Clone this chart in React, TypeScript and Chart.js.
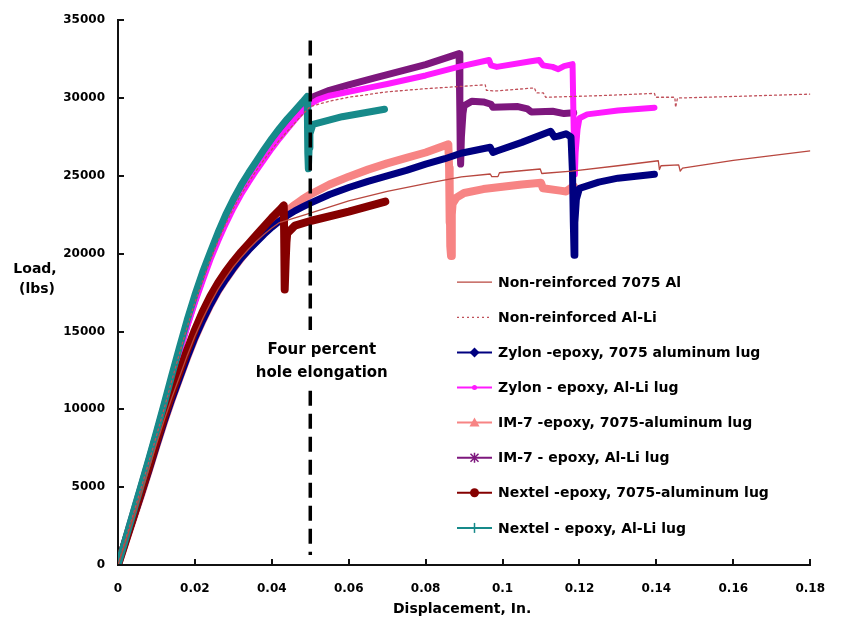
import { useEffect, useRef } from "react";
import { Chart, registerables } from "chart.js";

Chart.register(...registerables);

type P = [number, number];

const X_TICKS = [0, 0.02, 0.04, 0.06, 0.08, 0.1, 0.12, 0.14, 0.16, 0.18];
const Y_TICKS = [0, 5000, 10000, 15000, 20000, 25000, 30000, 35000];

const LEGEND_LABELS = [
  "Non-reinforced 7075 Al",
  "Non-reinforced Al-Li",
  "Zylon -epoxy, 7075 aluminum lug",
  "Zylon - epoxy, Al-Li lug",
  "IM-7 -epoxy, 7075-aluminum lug",
  "IM-7 - epoxy, Al-Li lug",
  "Nextel -epoxy, 7075-aluminum lug",
  "Nextel - epoxy, Al-Li lug",
];

const NONREINF_7075: P[] = [
  [0, 0], [0.002, 1520], [0.004, 3050], [0.006, 4580], [0.008, 6150], [0.01, 7750], [0.012, 9300],
  [0.014, 10750], [0.016, 12100], [0.018, 13450], [0.02, 14700], [0.022, 15800], [0.024, 16800],
  [0.026, 17700], [0.028, 18450], [0.03, 19150], [0.032, 19750], [0.034, 20300], [0.036, 20800],
  [0.038, 21250], [0.04, 21650], [0.042, 22000], [0.046, 22300], [0.05, 22600], [0.06, 23400],
  [0.07, 24000], [0.08, 24500], [0.0893, 24930], [0.0968, 25120], [0.0972, 24950], [0.0988, 24950],
  [0.0992, 25200], [0.1098, 25440], [0.1102, 25150], [0.118, 25300], [0.13, 25650], [0.1405, 25970],
  [0.1408, 25400], [0.1412, 25650], [0.1458, 25700], [0.1462, 25300], [0.1468, 25500],
  [0.16, 26000], [0.17, 26300], [0.18, 26600],
];

const NONREINF_ALLI: P[] = [
  [0, 0], [0.002, 1650], [0.004, 3300], [0.006, 4950], [0.008, 6600], [0.01, 8300], [0.012, 10050],
  [0.014, 11850], [0.016, 13600], [0.018, 15300], [0.02, 16850], [0.022, 18250], [0.024, 19600],
  [0.026, 20800], [0.028, 21900], [0.03, 22900], [0.032, 23800], [0.034, 24600], [0.036, 25350],
  [0.038, 26050], [0.04, 26700], [0.042, 27300], [0.044, 27850], [0.046, 28400], [0.048, 28950],
  [0.05, 29450], [0.055, 29800], [0.06, 30050], [0.07, 30400], [0.08, 30600], [0.0955, 30850],
  [0.0958, 30500], [0.098, 30450], [0.1083, 30650], [0.1088, 30330], [0.1106, 30330],
  [0.1112, 30050], [0.125, 30150], [0.1395, 30300], [0.1398, 30050], [0.1448, 30050],
  [0.145, 29400], [0.1455, 30000], [0.16, 30100], [0.18, 30250],
];

const ZYLON_7075: P[] = [
  [0, 0], [0.002, 1500], [0.004, 3000], [0.006, 4500], [0.008, 6050], [0.01, 7650], [0.012, 9200],
  [0.014, 10650], [0.016, 12000], [0.018, 13350], [0.02, 14600], [0.022, 15700], [0.024, 16700],
  [0.026, 17600], [0.028, 18350], [0.03, 19050], [0.032, 19700], [0.034, 20250], [0.036, 20750],
  [0.038, 21250], [0.04, 21700], [0.042, 22100], [0.044, 22450], [0.046, 22750], [0.048, 23000],
  [0.05, 23250], [0.055, 23800], [0.06, 24250], [0.065, 24650], [0.0693, 24950], [0.075, 25350],
  [0.08, 25750], [0.085, 26100], [0.0892, 26450], [0.0968, 26840], [0.0975, 26500],
  [0.0985, 26600], [0.105, 27150], [0.1125, 27860], [0.1135, 27500], [0.1145, 27550],
  [0.1165, 27700], [0.1178, 27500], [0.1182, 25100], [0.1184, 22000], [0.1186, 19900],
  [0.1188, 22000], [0.1192, 23500], [0.12, 24200], [0.125, 24600], [0.13, 24850], [0.1395, 25100],
];

const ZYLON_ALLI: P[] = [
  [0, 0], [0.002, 1650], [0.004, 3300], [0.006, 4950], [0.008, 6600], [0.01, 8300], [0.012, 10050],
  [0.014, 11850], [0.016, 13600], [0.018, 15300], [0.02, 16850], [0.022, 18250], [0.024, 19600],
  [0.026, 20800], [0.028, 21900], [0.03, 22900], [0.032, 23800], [0.034, 24600], [0.036, 25350],
  [0.038, 26050], [0.04, 26750], [0.042, 27400], [0.044, 28000], [0.046, 28600], [0.048, 29150],
  [0.05, 29600], [0.052, 29900], [0.055, 30150], [0.06, 30400], [0.065, 30650], [0.07, 30900],
  [0.08, 31450], [0.0885, 32000], [0.0965, 32440], [0.097, 32100], [0.0985, 32000],
  [0.107, 32350], [0.1095, 32440], [0.1105, 32100], [0.113, 32000], [0.1145, 31850],
  [0.116, 32050], [0.1182, 32180], [0.1185, 28000], [0.1188, 25100], [0.119, 26500],
  [0.1195, 28000], [0.12, 28700], [0.122, 28950], [0.13, 29200], [0.1395, 29380],
];

const IM7_7075: P[] = [
  [0, 0], [0.002, 1500], [0.004, 3000], [0.006, 4500], [0.008, 6050], [0.01, 7650], [0.012, 9200],
  [0.014, 10650], [0.016, 12000], [0.018, 13350], [0.02, 14600], [0.022, 15700], [0.024, 16700],
  [0.026, 17600], [0.028, 18350], [0.03, 19050], [0.032, 19700], [0.034, 20300], [0.036, 20850],
  [0.038, 21350], [0.04, 21850], [0.042, 22300], [0.044, 22750], [0.046, 23150], [0.048, 23500],
  [0.05, 23800], [0.055, 24450], [0.06, 24950], [0.065, 25400], [0.07, 25800], [0.075, 26150],
  [0.08, 26500], [0.0859, 27030], [0.0861, 25500], [0.0862, 22000], [0.0863, 24500],
  [0.0864, 20500], [0.0866, 19850], [0.0868, 22500], [0.087, 23200], [0.088, 23600],
  [0.09, 23900], [0.095, 24150], [0.1, 24300], [0.105, 24450], [0.11, 24550], [0.1105, 24200],
  [0.115, 24050], [0.1165, 24000], [0.1185, 24350],
];

const IM7_ALLI: P[] = [
  [0, 0], [0.002, 1680], [0.004, 3350], [0.006, 5020], [0.008, 6700], [0.01, 8420], [0.012, 10200],
  [0.014, 12000], [0.016, 13800], [0.018, 15500], [0.02, 17050], [0.022, 18500], [0.024, 19850],
  [0.026, 21050], [0.028, 22150], [0.03, 23150], [0.032, 24050], [0.034, 24850], [0.036, 25600],
  [0.038, 26300], [0.04, 26980], [0.042, 27620], [0.044, 28250], [0.046, 28850], [0.048, 29450],
  [0.05, 30000], [0.055, 30500], [0.06, 30850], [0.0668, 31300], [0.08, 32150], [0.0887, 32850],
  [0.0889, 29000], [0.089, 26500], [0.0891, 25760], [0.0893, 27500], [0.0897, 29000],
  [0.09, 29500], [0.092, 29800], [0.095, 29750], [0.097, 29600], [0.0975, 29400],
  [0.104, 29450], [0.1065, 29300], [0.1075, 29100], [0.113, 29150], [0.116, 29000],
  [0.1185, 29050],
];

const NEXTEL_7075: P[] = [
  [0, 0], [0.002, 1550], [0.004, 3100], [0.006, 4650], [0.008, 6250], [0.01, 7900], [0.012, 9500],
  [0.014, 11000], [0.016, 12400], [0.018, 13800], [0.02, 15100], [0.022, 16250], [0.024, 17250],
  [0.026, 18100], [0.028, 18850], [0.03, 19500], [0.032, 20100], [0.034, 20650], [0.036, 21200],
  [0.038, 21750], [0.04, 22300], [0.042, 22800], [0.0431, 23100], [0.0432, 21500],
  [0.0433, 19000], [0.0434, 17700], [0.0436, 19500], [0.0438, 20700], [0.044, 21300],
  [0.046, 21800], [0.05, 22100], [0.06, 22700], [0.0695, 23350],
];

const NEXTEL_ALLI: P[] = [
  [0, 0], [0.002, 1700], [0.004, 3400], [0.006, 5100], [0.008, 6800], [0.01, 8550], [0.012, 10350],
  [0.014, 12200], [0.016, 14000], [0.018, 15750], [0.02, 17350], [0.022, 18800], [0.024, 20100],
  [0.026, 21350], [0.028, 22500], [0.03, 23500], [0.032, 24400], [0.034, 25200], [0.036, 25950],
  [0.038, 26700], [0.04, 27400], [0.042, 28050], [0.044, 28650], [0.046, 29200], [0.048, 29750],
  [0.0492, 30100], [0.0493, 28000], [0.0494, 26500], [0.0495, 25450], [0.0497, 26800],
  [0.0499, 27700], [0.0507, 28300], [0.0583, 28800], [0.0693, 29280],
];

// Four-percent hole elongation marker (x) and its annotation
const ELONGATION_X = [0.05];
const ELONGATION_LABEL = ["Four percent", "hole elongation"];

const FONT = "'DejaVu Sans', sans-serif";

type Style = { color: string; width: number; dash?: number[]; marker: string; order: number };
const STYLES: Style[] = [
  { color: "#b8473f", width: 1.3, marker: "none", order: 0 },
  { color: "#c0505a", width: 1.3, dash: [2, 3], marker: "none", order: 1 },
  { color: "#000080", width: 7, marker: "diamond", order: 4 },
  { color: "#ff1aff", width: 6, marker: "dot", order: 5 },
  { color: "#f78484", width: 8, marker: "triangle", order: 7 },
  { color: "#7d177d", width: 7, marker: "star", order: 6 },
  { color: "#850000", width: 8, marker: "circle", order: 3 },
  { color: "#178a8a", width: 7, marker: "plus", order: 2 },
];

const SERIES: P[][] = [
  NONREINF_7075, NONREINF_ALLI, ZYLON_7075, ZYLON_ALLI, IM7_7075, IM7_ALLI, NEXTEL_7075, NEXTEL_ALLI,
];

function drawMarker(ctx: CanvasRenderingContext2D, kind: string, x: number, y: number, color: string) {
  ctx.save();
  ctx.fillStyle = color;
  ctx.strokeStyle = color;
  ctx.lineWidth = 1.5;
  ctx.beginPath();
  if (kind === "diamond") {
    ctx.moveTo(x, y - 5); ctx.lineTo(x + 5, y); ctx.lineTo(x, y + 5); ctx.lineTo(x - 5, y); ctx.closePath(); ctx.fill();
  } else if (kind === "dot") {
    ctx.arc(x, y, 2.5, 0, Math.PI * 2); ctx.fill();
  } else if (kind === "triangle") {
    ctx.moveTo(x, y - 5); ctx.lineTo(x + 5, y + 4); ctx.lineTo(x - 5, y + 4); ctx.closePath(); ctx.fill();
  } else if (kind === "circle") {
    ctx.arc(x, y, 4.5, 0, Math.PI * 2); ctx.fill();
  } else if (kind === "star") {
    ctx.moveTo(x - 4, y - 4); ctx.lineTo(x + 4, y + 4); ctx.moveTo(x + 4, y - 4); ctx.lineTo(x - 4, y + 4);
    ctx.moveTo(x, y - 5); ctx.lineTo(x, y + 5); ctx.stroke();
  } else if (kind === "plus") {
    ctx.moveTo(x, y - 5); ctx.lineTo(x, y + 5); ctx.stroke();
  }
  ctx.restore();
}

const decorPlugin = {
  id: "decor",
  afterDatasetsDraw(chart: any) {
    const { ctx, chartArea: ca, scales } = chart;
    const xs = scales.x;
    const ys = scales.y;
    ctx.save();
    // inner tick marks
    ctx.strokeStyle = "#111";
    ctx.lineWidth = 2;
    ctx.beginPath();
    for (const v of Y_TICKS) {
      const py = Math.round(ys.getPixelForValue(v));
      ctx.moveTo(ca.left, py); ctx.lineTo(ca.left + 6, py);
    }
    for (const v of X_TICKS) {
      if (v === 0) continue;
      const px = Math.round(xs.getPixelForValue(v));
      ctx.moveTo(px, ca.bottom); ctx.lineTo(px, ca.bottom - 6);
    }
    ctx.stroke();

    // dashed elongation line
    const lx = xs.getPixelForValue(ELONGATION_X[0]);
    ctx.strokeStyle = "#000";
    ctx.lineWidth = 3.5;
    ctx.setLineDash([15, 8]);
    ctx.beginPath();
    ctx.moveTo(lx, ys.getPixelForValue(33700));
    ctx.lineTo(lx, ys.getPixelForValue(15100));
    ctx.moveTo(lx, ys.getPixelForValue(11200));
    ctx.lineTo(lx, ys.getPixelForValue(640));
    ctx.stroke();
    ctx.setLineDash([]);

    // annotation text
    ctx.fillStyle = "#000";
    ctx.font = `bold 15px ${FONT}`;
    ctx.textAlign = "center";
    ctx.textBaseline = "middle";
    ctx.fillText(ELONGATION_LABEL[0], xs.getPixelForValue(0.053), ys.getPixelForValue(13800));
    ctx.fillText(ELONGATION_LABEL[1], xs.getPixelForValue(0.053), ys.getPixelForValue(12340));

    // legend
    const sx0 = ca.left + 339;
    const sx1 = ca.left + 374;
    const tx = ca.left + 380;
    ctx.font = `bold 14px ${FONT}`;
    ctx.textAlign = "left";
    LEGEND_LABELS.forEach((label, i) => {
      const st = STYLES[i];
      const ry = ca.top + 262 + i * 35.1;
      ctx.strokeStyle = st.color;
      ctx.lineWidth = st.marker === "none" ? 1.3 : 2;
      ctx.setLineDash(st.dash || []);
      ctx.beginPath();
      ctx.moveTo(sx0, ry); ctx.lineTo(sx1, ry);
      ctx.stroke();
      ctx.setLineDash([]);
      if (st.marker !== "none") drawMarker(ctx, st.marker, (sx0 + sx1) / 2, ry, st.color);
      ctx.fillStyle = "#000";
      ctx.fillText(label, tx, ry + 1);
    });

    // axis titles
    ctx.font = `bold 14px ${FONT}`;
    ctx.textAlign = "center";
    ctx.fillText("Load,", 35, 269);
    ctx.fillText("(lbs)", 37, 289);
    ctx.fillText("Displacement, In.", (ca.left + ca.right) / 2 - 2, 609);
    ctx.restore();
  },
};

export default function App() {
  const ref = useRef<HTMLCanvasElement | null>(null);
  useEffect(() => {
    if (!ref.current) return;
    const datasets = SERIES.map((arr, i) => ({
      label: LEGEND_LABELS[i],
      data: arr.map(([x, y]) => ({ x, y })),
      showLine: true,
      borderColor: STYLES[i].color,
      backgroundColor: STYLES[i].color,
      borderWidth: STYLES[i].width,
      borderDash: STYLES[i].dash || [],
      pointRadius: 0,
      tension: 0,
      order: STYLES[i].order,
      borderJoinStyle: "round" as const,
      borderCapStyle: "round" as const,
    }));
    const chart = new Chart(ref.current, {
      type: "scatter",
      data: { datasets },
      plugins: [decorPlugin],
      options: {
        animation: false,
        responsive: false,
        devicePixelRatio: 1,
        layout: { padding: { top: 15, right: 16, left: 0, bottom: 0 } },
        plugins: { legend: { display: false }, tooltip: { enabled: false } },
        scales: {
          x: {
            type: "linear",
            min: 0,
            max: 0.18,
            afterFit: (s: any) => { s.height = 63; },
            afterBuildTicks: (s: any) => { s.ticks = X_TICKS.map((v) => ({ value: v })); },
            grid: { display: false, drawTicks: false },
            border: { display: true, color: "#111", width: 2 },
            ticks: {
              padding: 17,
              color: "#000",
              font: { family: FONT, size: 12, weight: "bold" },
              callback: (v: any) => String(Number(Number(v).toFixed(2))),
            },
          },
          y: {
            type: "linear",
            min: 0,
            max: 35000,
            afterFit: (s: any) => { s.width = 118; },
            afterBuildTicks: (s: any) => { s.ticks = Y_TICKS.map((v) => ({ value: v })); },
            grid: { display: false, drawTicks: false },
            border: { display: true, color: "#111", width: 2 },
            ticks: {
              padding: 13,
              color: "#000",
              font: { family: FONT, size: 12, weight: "bold" },
              callback: (v: any) => String(v),
            },
          },
        },
      } as any,
    });
    return () => chart.destroy();
  }, []);
  return (
    <div style={{ position: "absolute", left: 0, top: 0, width: 842, height: 628, background: "#fff" }}>
      <canvas ref={ref} width={842} height={628} style={{ display: "block" }} />
    </div>
  );
}
